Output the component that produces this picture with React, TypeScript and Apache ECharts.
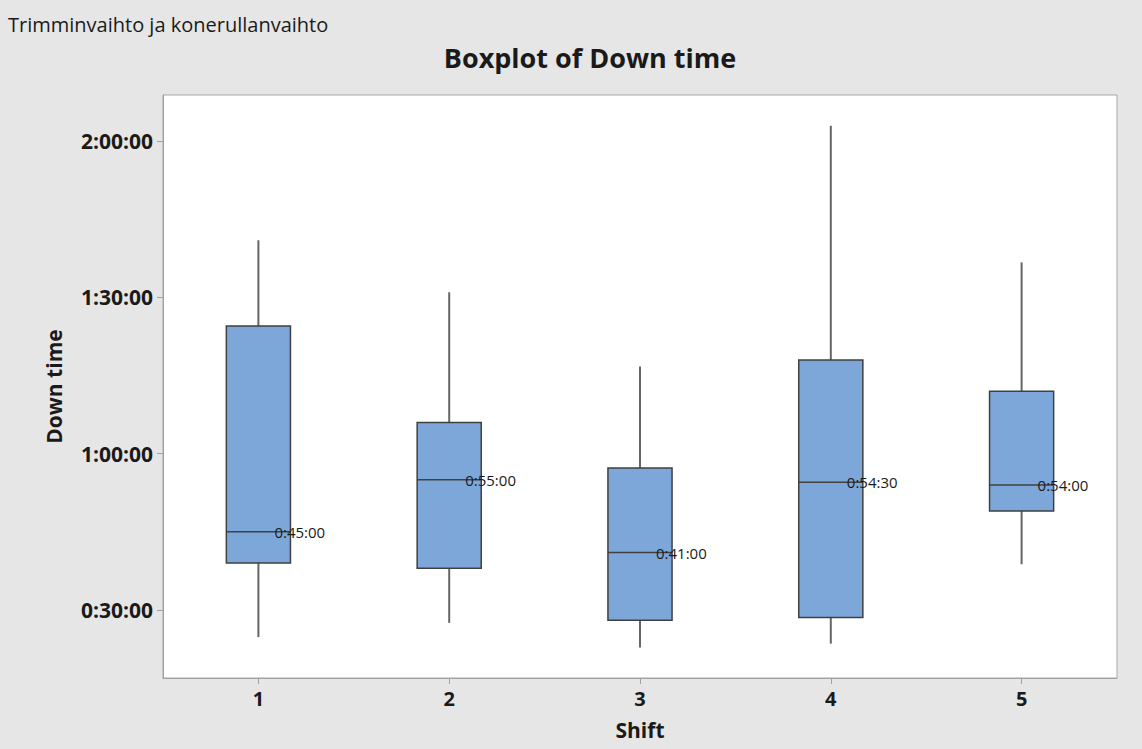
import React, { useEffect, useRef } from 'react';
import * as echarts from 'echarts';

// ---- data (times as h:mm:ss) ----
const shifts = ['1', '2', '3', '4', '5'];
const whiskerLow = ['0:24:45', '0:27:30', '0:22:45', '0:23:30', '0:38:45'];
const quartile1 = ['0:39:00', '0:38:00', '0:28:00', '0:28:30', '0:49:00'];
const medians = ['0:45:00', '0:55:00', '0:41:00', '0:54:30', '0:54:00'];
const quartile3 = ['1:24:30', '1:06:00', '0:57:15', '1:18:00', '1:12:00'];
const whiskerHigh = ['1:41:00', '1:31:00', '1:16:45', '2:03:00', '1:36:45'];
const yTickLabels = ['0:30:00', '1:00:00', '1:30:00', '2:00:00'];
const yAxisMin = '0:16:54';
const yAxisMax = '2:08:54';

const toSec = (s: string) => {
  const [h, m, sec] = s.split(':').map(Number);
  return h * 3600 + m * 60 + sec;
};
const fmt = (v: number) => {
  const t = Math.round(v);
  const h = Math.floor(t / 3600);
  const m = Math.floor((t % 3600) / 60);
  const s = t % 60;
  return `${h}:${String(m).padStart(2, '0')}:${String(s).padStart(2, '0')}`;
};

const FONT = '"Open Sans", "Noto Sans", sans-serif';
const TXT = '#1a1a1a';

export default function App() {
  const ref = useRef<HTMLDivElement>(null);
  useEffect(() => {
    if (!ref.current) return;
    const chart = echarts.init(ref.current, null, { renderer: 'svg' });
    const yTicks = yTickLabels.map(toSec);
    const data = shifts.map((_, i) => [
      i,
      toSec(whiskerLow[i]),
      toSec(quartile1[i]),
      toSec(medians[i]),
      toSec(quartile3[i]),
      toSec(whiskerHigh[i]),
    ]);
    chart.setOption({
      animation: false,
      backgroundColor: '#e6e6e6',
      textStyle: { fontFamily: FONT },
      graphic: [
        {
          type: 'text',
          x: 8,
          y: 24,
          style: {
            text: 'Trimminvaihto ja konerullanvaihto',
            fill: TXT,
            font: `20px ${FONT}`,
            textAlign: 'left',
            textVerticalAlign: 'middle',
          },
        },
        {
          type: 'text',
          x: 590,
          y: 57,
          style: {
            text: 'Boxplot of Down time',
            fill: TXT,
            font: `bold 27px ${FONT}`,
            textAlign: 'center',
            textVerticalAlign: 'middle',
          },
        },
      ],
      grid: {
        left: 163,
        top: 95,
        right: 25,
        bottom: 71,
        show: true,
        backgroundColor: '#ffffff',
        borderColor: '#a8a8a8',
        borderWidth: 1,
      },
      xAxis: {
        type: 'category',
        data: shifts,
        boundaryGap: true,
        name: 'Shift',
        nameLocation: 'middle',
        nameGap: 41,
        nameTextStyle: { fontFamily: FONT, fontWeight: 'bold', fontSize: 21, color: TXT },
        axisLine: { show: true, lineStyle: { color: '#a0a0a0' } },
        axisTick: { show: true, alignWithLabel: true, length: 6, lineStyle: { color: '#a0a0a0' } },
        axisLabel: { fontFamily: FONT, fontWeight: 'bold', fontSize: 20, color: TXT, margin: 10 },
        splitLine: { show: false },
      },
      yAxis: {
        type: 'value',
        min: toSec(yAxisMin),
        max: toSec(yAxisMax),
        name: 'Down time',
        nameLocation: 'middle',
        nameGap: 99,
        nameTextStyle: { fontFamily: FONT, fontWeight: 'bold', fontSize: 21, color: TXT },
        axisLine: { show: true, lineStyle: { color: '#a0a0a0' } },
        axisTick: { show: true, length: 6, lineStyle: { color: '#a0a0a0' }, customValues: yTicks },
        axisLabel: {
          customValues: yTicks,
          formatter: (v: number) => fmt(v),
          fontFamily: FONT,
          fontWeight: 'bold',
          fontSize: 21,
          color: TXT,
          margin: 10,
        },
        splitLine: { show: false },
      },
      series: [
        {
          type: 'custom',
          data,
          encode: { x: 0, y: [1, 2, 3, 4, 5] },
          renderItem: (params: any, api: any) => {
            const i = api.value(0);
            const lo = api.coord([i, api.value(1)]);
            const q1 = api.coord([i, api.value(2)]);
            const md = api.coord([i, api.value(3)]);
            const q3 = api.coord([i, api.value(4)]);
            const hi = api.coord([i, api.value(5)]);
            const band = api.size([1, 0])[0];
            const hw = band * 0.168;
            const cx = md[0];
            return {
              type: 'group',
              children: [
                { type: 'line', shape: { x1: cx, y1: hi[1], x2: cx, y2: q3[1] }, style: { stroke: '#666666', lineWidth: 2 } },
                { type: 'line', shape: { x1: cx, y1: q1[1], x2: cx, y2: lo[1] }, style: { stroke: '#666666', lineWidth: 2 } },
                {
                  type: 'rect',
                  shape: { x: cx - hw, y: q3[1], width: 2 * hw, height: q1[1] - q3[1] },
                  style: { fill: '#7da7d9', stroke: '#404040', lineWidth: 1.5 },
                },
                { type: 'line', shape: { x1: cx - hw, y1: md[1], x2: cx + hw, y2: md[1] }, style: { stroke: '#404040', lineWidth: 1.5 } },
                {
                  type: 'text',
                  x: cx + 16,
                  y: md[1],
                  style: {
                    text: fmt(api.value(3)),
                    fill: TXT,
                    font: `15px ${FONT}`,
                    textAlign: 'left',
                    textVerticalAlign: 'middle',
                  },
                },
              ],
            };
          },
        },
      ],
    });
    return () => chart.dispose();
  }, []);
  return <div ref={ref} style={{ position: 'fixed', left: 0, top: 0, width: 1142, height: 749 }} />;
}
